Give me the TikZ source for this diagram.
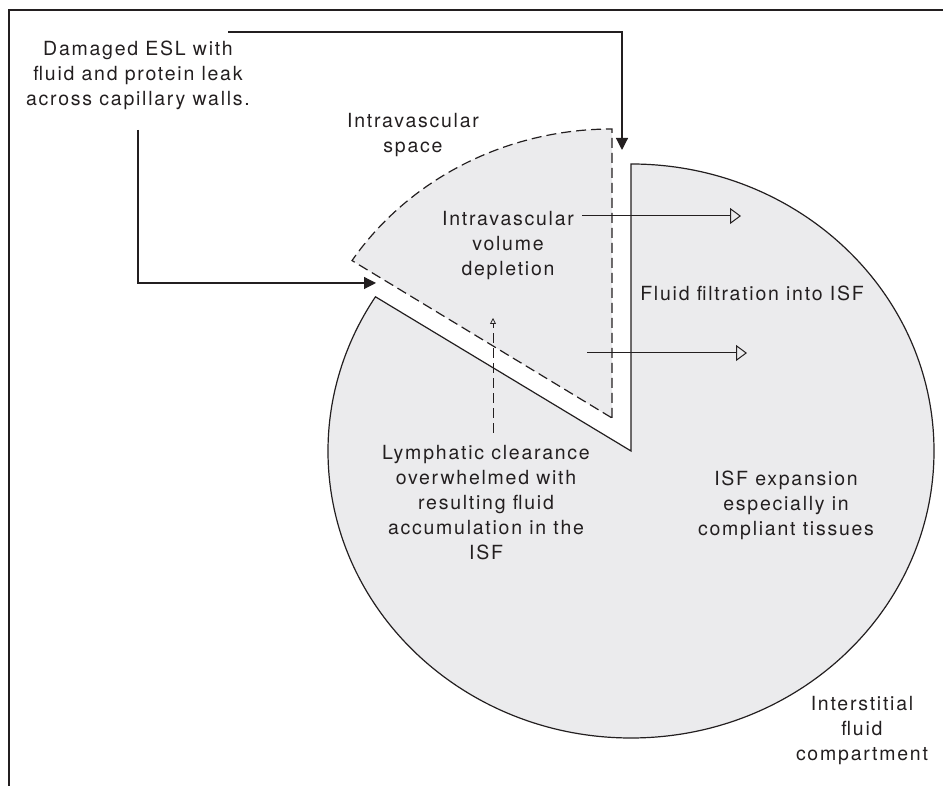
\documentclass[tikz,border=0pt]{standalone}
\usepackage{fontspec}
\setmainfont{TeX Gyre Heros}[LetterSpace=9]
\usetikzlibrary{arrows.meta}
\definecolor{fillg}{RGB}{235,235,237}
\definecolor{ink}{RGB}{35,31,32}
\tikzset{
  lbl/.style={align=center, inner sep=0pt, text=ink, font=\fontsize{19.5}{25}\selectfont},
  conn/.style={draw=ink, line width=1.2pt},
  solidtip/.style={-{Triangle[length=12pt,width=12pt]}},
  opentip/.style={-{Triangle[open,length=11pt,width=16pt,line width=1pt]}},
  smalltip/.style={-{Triangle[open,length=6pt,width=6pt,line width=0.8pt]}},
  dashline/.style={dash pattern=on 10pt off 5pt}
}
\begin{document}
\begin{tikzpicture}[x=1pt,y=1pt]
\useasboundingbox (0,0) rectangle (943,786);
% frame
\draw[ink, line width=2pt] (943,776) -- (9,776) -- (9,0);
% ISF compartment
\draw[conn, fill=fillg] (631,335) -- (631,622) arc[start angle=90, end angle=-212.5, x radius=303, y radius=287] -- cycle;
% intravascular space
\draw[conn, fill=fillg, dashline] (612,368) -- (612,657) arc[start angle=90, end angle=147, x radius=310, y radius=289] -- cycle;
% labels
\node[lbl] (esl) at (138,711) {Damaged ESL with\\fluid and protein leak\\across capillary walls.};
\node[lbl] (ivs) at (413,651) {Intravascular\\space};
\node[lbl] (ivd) at (508,540) {Intravascular\\volume\\depletion};
\node[lbl] (ff) at (752,493) {Fluid filtration into ISF};
\node[lbl] (lym) at (486,283) {Lymphatic clearance\\overwhelmed with\\resulting fluid\\accumulation in the\\ISF};
\node[lbl] (isfe) at (786,281) {ISF expansion\\especially in\\compliant tissues};
\node[lbl] (isfc) at (862,55) {Interstitial\\fluid\\compartment};
% connectors
\coordinate (t1) at (228,754);
\coordinate (t2) at (622,636);
\draw[conn, solidtip] (t1) -| (t2);
\coordinate (l1) at (138,656);
\coordinate (l2) at (376,503);
\draw[conn, solidtip] (l1) |- (l2);
\coordinate (a1) at (582,570);
\coordinate (a2) at (741,570);
\draw[conn, line width=1pt, opentip] (a1) -- (a2);
\coordinate (b1) at (587,433);
\coordinate (b2) at (747,433);
\draw[conn, line width=1pt, opentip] (b1) -- (b2);
\coordinate (d1) at (493,353);
\coordinate (d2) at (493,468);
\draw[conn, line width=1pt, dashline, smalltip] (d1) -- (d2);
\end{tikzpicture}
\end{document}
